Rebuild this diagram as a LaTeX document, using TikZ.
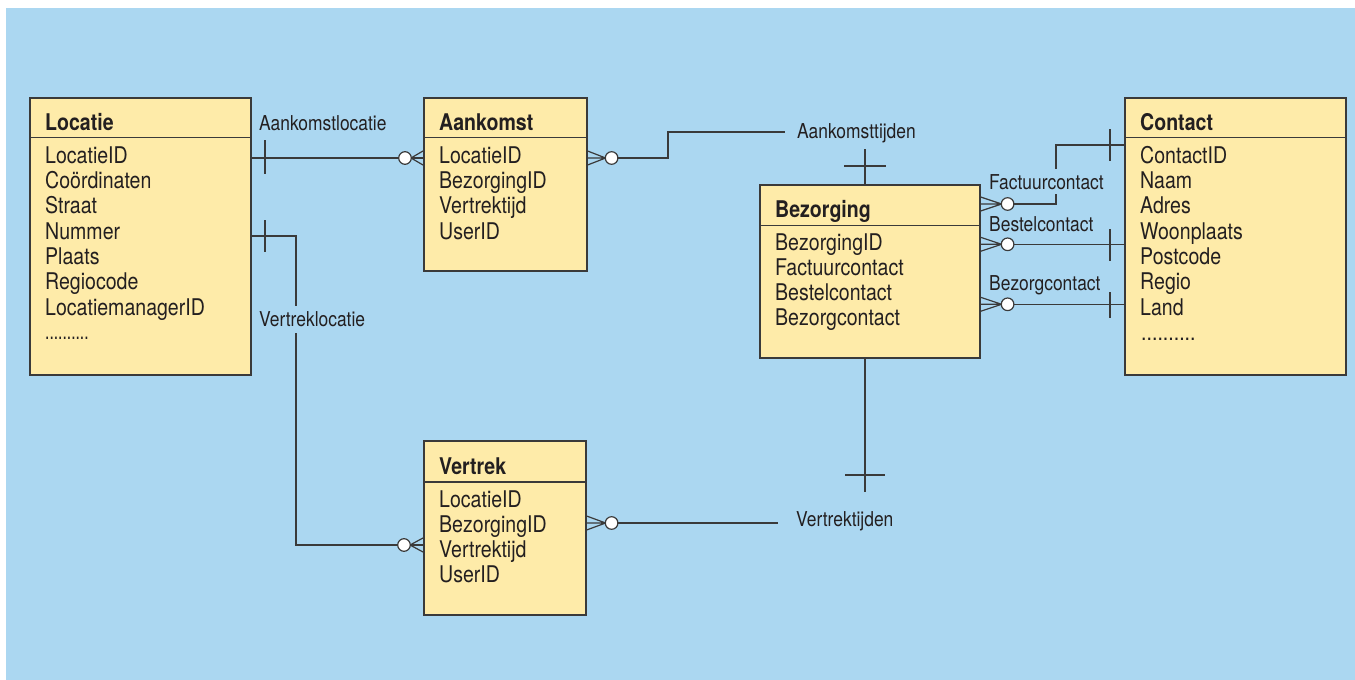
\documentclass[tikz,border=0pt]{standalone}
\usepackage{fontspec}
\setmainfont{TeX Gyre Heros}[FakeStretch=0.85]
\usetikzlibrary{calc}
\definecolor{bgblue}{HTML}{ABD7F1}
\definecolor{boxfill}{HTML}{FEEBA9}
\definecolor{ink}{HTML}{231F20}
\definecolor{edge}{HTML}{3A3A3A}
\tikzset{
  entity/.style={draw=edge, line width=1.6pt, fill=boxfill, anchor=north west, inner sep=0pt},
  divider/.style={draw=edge, line width=1.3pt},
  conn/.style={draw=edge, line width=1.2pt},
  title/.style={anchor=base west, inner sep=0pt, text=ink, font=\fontsize{23}{25}\selectfont\bfseries},
  row/.style={anchor=base west, inner sep=0pt, text=ink, font=\fontsize{23}{25}\selectfont},
  rel/.style={anchor=base west, inner sep=0pt, text=ink, font=\fontsize{20.5}{24}\selectfont},
  crow/.pic={
    \draw[conn] (0,-7) -- (-#1,0) -- (0,7) (0,0) -- (-#1,0);
    \draw[conn, fill=white] ({-#1-6},0) circle[radius=6.3];
  }
}
\begin{document}
\begin{tikzpicture}[x=1pt,y=-1pt]
\useasboundingbox (0,0) rectangle (1355,680);
\fill[white] (0,0) rectangle (1355,680);
\fill[bgblue] (6,8) rectangle (1355,680);

% ---------- entities ----------
\node[entity, minimum width=221, minimum height=277] (loc) at (29,97) {};
\node[entity, minimum width=163, minimum height=173] (aan) at (423,97) {};
\node[entity, minimum width=220, minimum height=173] (bez) at (759,184) {};
\node[entity, minimum width=221, minimum height=277] (con) at (1124,97) {};
\node[entity, minimum width=162, minimum height=174] (ver) at (423,440) {};

\draw[divider] (loc.west |- 0,137.5) -- (loc.east |- 0,137.5);
\draw[divider] (aan.west |- 0,137.5) -- (aan.east |- 0,137.5);
\draw[divider] (bez.west |- 0,225.7) -- (bez.east |- 0,225.7);
\draw[divider] (con.west |- 0,137.7) -- (con.east |- 0,137.7);
\draw[divider] (ver.west |- 0,482) -- (ver.east |- 0,482);

% ---------- titles ----------
\node[title] (loc-t) at (45,130) {Locatie};
\node[title] (aan-t) at (439,130) {Aankomst};
\node[title] (bez-t) at (775,217.3) {Bezorging};
\node[title] (con-t) at (1140,130) {Contact};
\node[title] (ver-t) at (439,474) {Vertrek};

% ---------- attributes ----------
\foreach \t [count=\i] in {LocatieID,Coördinaten,Straat,Nummer,Plaats,Regiocode,LocatiemanagerID}
  \node[row] (loc-\i) at (45,{163.3+25.3*(\i-1)}) {\t};
\node[row] (loc-dots) at (45,339.7) {\scalebox{0.8}[1]{..........}};

\foreach \t [count=\i] in {LocatieID,BezorgingID,Vertrektijd,UserID}
  \node[row] (aan-\i) at (439,{163.3+25.3*(\i-1)}) {\t};

\foreach \t [count=\i] in {BezorgingID,Factuurcontact,Bestelcontact,Bezorgcontact}
  \node[row] (bez-\i) at (775,{250+25*(\i-1)}) {\t};

\foreach \t [count=\i] in {ContactID,Naam,Adres,Woonplaats,Postcode,Regio,Land}
  \node[row] (con-\i) at (1140,{163.3+25.3*(\i-1)}) {\t};
\node[row] (con-dots) at (1141,340) {..........};

\foreach \t [count=\i] in {LocatieID,BezorgingID,Vertrektijd,UserID}
  \node[row] (ver-\i) at (439,{507+25.2*(\i-1)}) {\t};

% ---------- relationship labels ----------
\node[rel] (l-aankl) at (259,130) {Aankomstlocatie};
\node[rel] (l-aankt) at (797,138.3) {Aankomsttijden};
\node[rel] (l-vertt) at (796,526.7) {Vertrektijden};
\node[rel] (l-best) at (989,231.7) {Bestelcontact};
\node[rel] (l-bezc) at (989,290) {Bezorgcontact};

% ---------- connectors ----------
% Aankomstlocatie
\coordinate (c1) at (0,158);
\draw[conn] (loc.east |- c1) -- (aan.west |- c1);
\draw[conn] (265,140) -- (265,174);
\pic at (aan.west |- c1) {crow=12};

% Vertreklocatie
\coordinate (c2) at (0,236);
\coordinate (c2b) at (296,545);
\draw[conn] (loc.east |- c2) -- (c2b |- c2) -- (c2b) -- (ver.west |- c2b);
\draw[conn] (265,220) -- (265,252);
\pic at (ver.west |- c2b) {crow=13};
\node[rel, fill=bgblue, inner ysep=6pt, inner xsep=0pt] (l-vertl) at (259,326.7) {Vertreklocatie};

% Aankomsttijden
\coordinate (c3) at (0,158);
\coordinate (c3b) at (668,132);
\draw[conn] ($(aan.east |- c3)+(25,0)$) -- (c3b |- c3) -- (c3b) -- (785,132);
\pic[rotate=180] at (aan.east |- c3) {crow=18};
\draw[conn] (865,149) -- (bez.north -| 865,0);
\draw[conn] (844,166) -- (886,166);

% Vertrektijden
\coordinate (c4) at (0,523);
\draw[conn] ($(ver.east |- c4)+(25,0)$) -- (778,523);
\pic[rotate=180] at (ver.east |- c4) {crow=19};
\draw[conn] (bez.south -| 865,0) -- (865,492);
\draw[conn] (845,475) -- (885,475);

% Factuurcontact
\coordinate (c5) at (0,204);
\coordinate (c5b) at (1056,145);
\draw[conn] ($(bez.east |- c5)+(27,0)$) -- (c5b |- c5) -- (c5b) -- (con.west |- c5b);
\pic[rotate=180] at (bez.east |- c5) {crow=21};
\draw[conn] (1110,129) -- (1110,161);
\node[rel, fill=bgblue, inner ysep=5pt, inner xsep=0pt] (l-fact) at (989,189) {Factuurcontact};

% Bestelcontact
\coordinate (c6) at (0,244.3);
\draw[conn] ($(bez.east |- c6)+(27,0)$) -- (con.west |- c6);
\pic[rotate=180] at (bez.east |- c6) {crow=21};
\draw[conn] (1110,229) -- (1110,261);

% Bezorgcontact
\coordinate (c7) at (0,304.3);
\draw[conn] ($(bez.east |- c7)+(27,0)$) -- (con.west |- c7);
\pic[rotate=180] at (bez.east |- c7) {crow=21};
\draw[conn] (1110,292) -- (1110,318);
\end{tikzpicture}
\end{document}
